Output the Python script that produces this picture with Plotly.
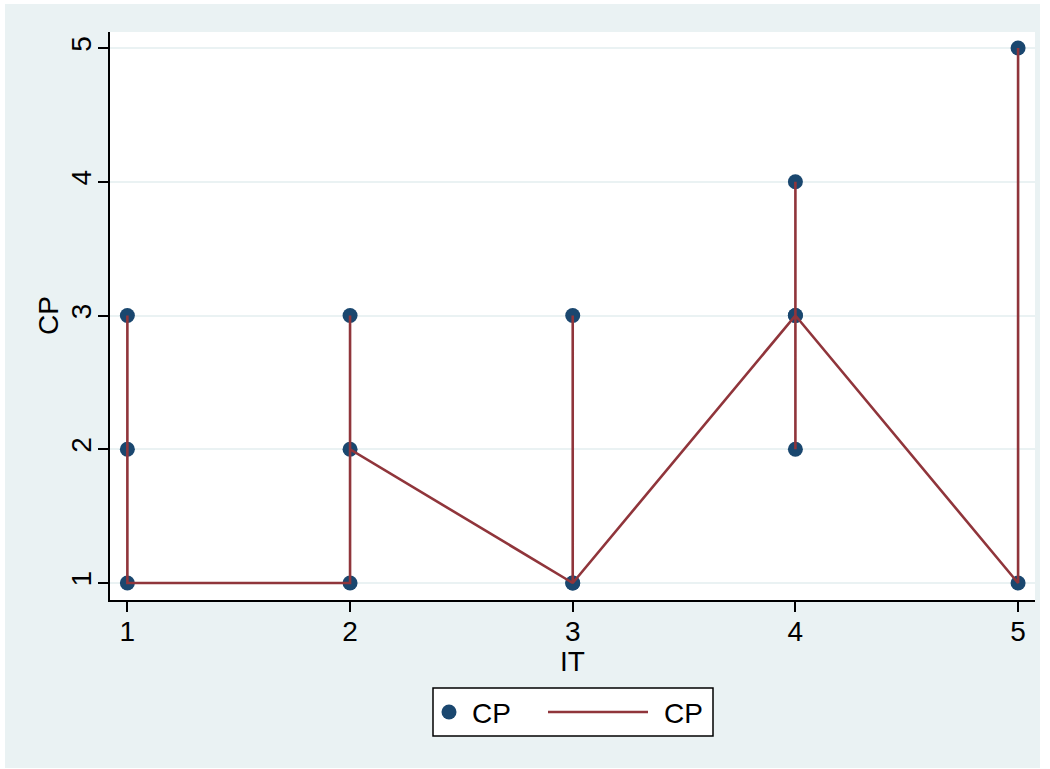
import plotly.graph_objects as go

# Observations, ordered by IT as in the dataset
it_values = [1, 1, 1, 2, 2, 2, 3, 3, 3, 4, 4, 4, 4, 5, 5]
cp_values = [3, 2, 1, 1, 3, 2, 1, 3, 1, 3, 4, 2, 3, 1, 5]
tick_vals = [1, 2, 3, 4, 5]
series_names = ["CP", "CP"]
x_title, y_title = "IT", "CP"

NAVY = "#1A476F"
MAROON = "#90353B"
BG = "#EAF2F3"
FONT = "Liberation Sans, Arial, sans-serif"
FS = 28

W, H = 1050, 769
M_L, M_R, M_T, M_B = 110, 15, 32, 169
PW, PH = W - M_L - M_R, H - M_T - M_B


def px_x(px):
    return (px - M_L) / PW


def px_y(py):
    return (H - M_B - py) / PH


fig = go.Figure()
fig.add_trace(go.Scatter(
    x=it_values, y=cp_values, mode="markers", name=series_names[0],
    marker=dict(color=NAVY, size=15), showlegend=False,
))
fig.add_trace(go.Scatter(
    x=it_values, y=cp_values, mode="lines", name=series_names[1],
    line=dict(color=MAROON, width=2.6), showlegend=False,
))

shapes = [
    # outer graph region
    dict(type="rect", xref="paper", yref="paper", layer="below",
         x0=px_x(5), x1=px_x(1040), y0=px_y(768), y1=px_y(4),
         fillcolor=BG, line=dict(width=0)),
    # plot region
    dict(type="rect", xref="paper", yref="paper", layer="below",
         x0=0, x1=1, y0=0, y1=1, fillcolor="white", line=dict(width=0)),
    # legend box
    dict(type="rect", xref="paper", yref="paper",
         x0=px_x(433), x1=px_x(713), y0=px_y(736), y1=px_y(688),
         fillcolor="white", line=dict(color="black", width=1.5)),
    # legend key: marker
    dict(type="circle", xref="paper", yref="paper",
         x0=px_x(441.5), x1=px_x(456.5), y0=px_y(719.5), y1=px_y(704.5),
         fillcolor=NAVY, line=dict(width=0)),
    # legend key: line
    dict(type="line", xref="paper", yref="paper",
         x0=px_x(548), x1=px_x(648), y0=px_y(712), y1=px_y(712),
         line=dict(color=MAROON, width=2.6)),
]

text_font = dict(family=FONT, size=FS, color="black")
annotations = [
    # legend labels
    dict(text=series_names[0], xref="paper", yref="paper", x=px_x(470), y=px_y(713),
         xanchor="left", yanchor="middle", showarrow=False, font=text_font),
    dict(text=series_names[1], xref="paper", yref="paper", x=px_x(662), y=px_y(713),
         xanchor="left", yanchor="middle", showarrow=False, font=text_font),
    # axis titles
    dict(text=x_title, xref="paper", yref="paper", x=0.5, y=px_y(661),
         xanchor="center", yanchor="middle", showarrow=False, font=text_font),
    dict(text=y_title, xref="paper", yref="paper", x=px_x(48), y=0.5, textangle=-90,
         xanchor="center", yanchor="middle", showarrow=False, font=text_font),
]

fig.update_layout(
    width=W, height=H,
    margin=dict(l=M_L, r=M_R, t=M_T, b=M_B, autoexpand=False),
    paper_bgcolor="white", plot_bgcolor="white",
    font=text_font,
    shapes=shapes, annotations=annotations,
    showlegend=False,
)
fig.update_xaxes(
    range=[0.922, 5.076], tickvals=tick_vals, ticktext=[str(v) for v in tick_vals],
    showgrid=False, zeroline=False,
    showline=True, linecolor="black", linewidth=1.5,
    ticks="outside", ticklen=10, tickwidth=1.5, tickcolor="black",
    ticklabelstandoff=-4,
)
fig.update_yaxes(
    range=[0.873, 5.12], tickvals=tick_vals, ticktext=[str(v) for v in tick_vals],
    tickangle=-90,
    showgrid=True, gridcolor=BG, gridwidth=2, zeroline=False,
    showline=True, linecolor="black", linewidth=1.5,
    ticks="outside", ticklen=10, tickwidth=1.5, tickcolor="black",
    ticklabelstandoff=-4,
)

fig.write_html("out.html")
